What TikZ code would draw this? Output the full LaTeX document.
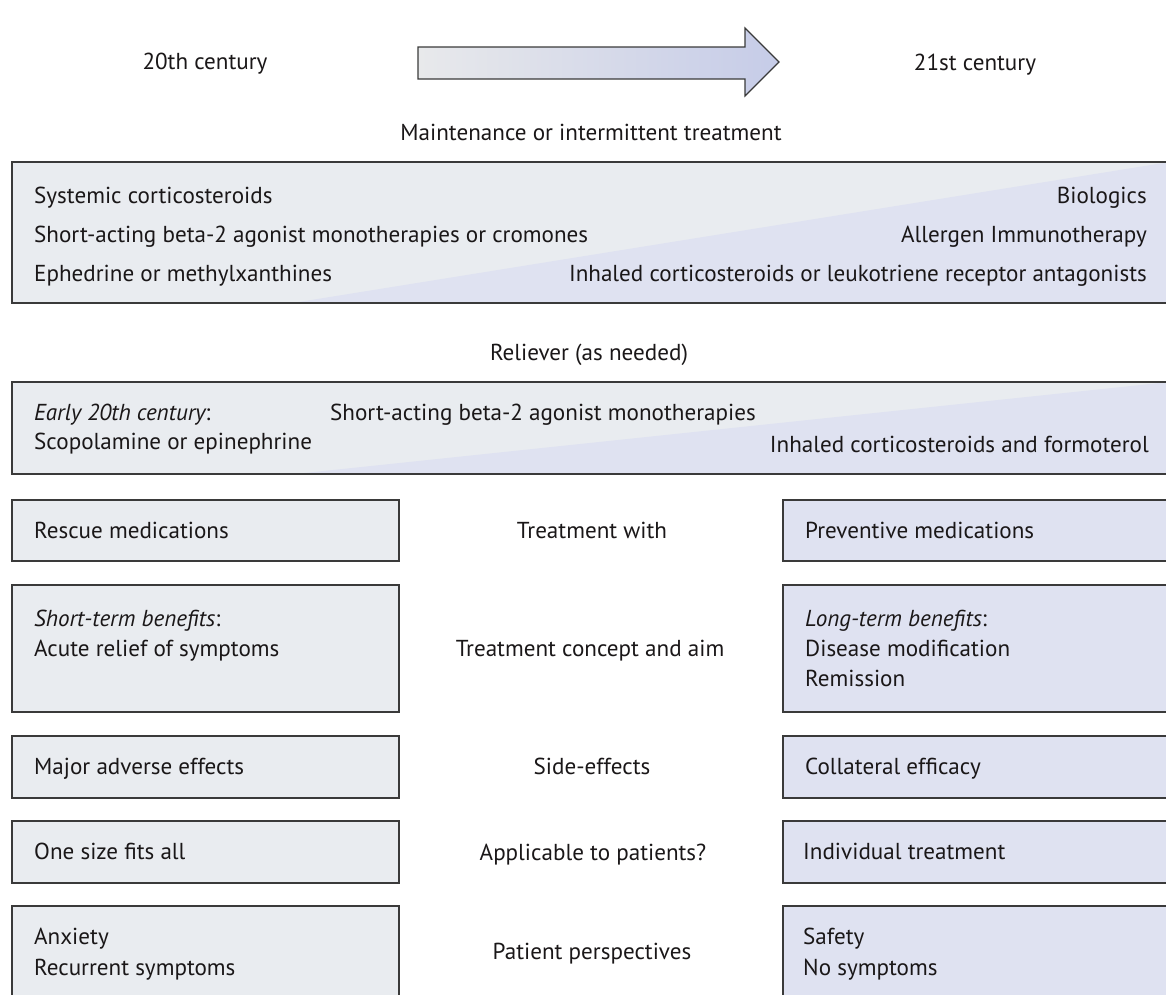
\documentclass[tikz,border=0pt]{standalone}
\usepackage{fontspec}
\setmainfont{PT Sans}
\definecolor{leftc}{HTML}{E9ECF0}
\definecolor{rightc}{HTML}{DFE2F1}
\definecolor{edgec}{HTML}{3A3A3A}
\definecolor{arrowl}{HTML}{E8E9EB}
\definecolor{arrowr}{HTML}{C6CCE8}
\definecolor{txtc}{HTML}{1A1718}
\begin{document}
\begin{tikzpicture}[x=1pt,y=-1pt,
  txt/.style={inner sep=0pt, font=\fontsize{23.1}{27}\selectfont, text=txtc},
  boxbase/.style={draw=edgec, line width=1.6pt, rectangle, inner sep=0pt, anchor=north west},
  lbox/.style={boxbase, fill=leftc, minimum width=387pt},
  rbox/.style={boxbase, fill=rightc, minimum width=390pt},
  splitbox/.style={boxbase, fill=leftc, minimum width=1159pt,
    path picture={\fill[rightc] ([xshift=#1]path picture bounding box.south west) -- (path picture bounding box.north east) -- (path picture bounding box.south east) -- cycle;}},
  timearrow/.style={draw=edgec, line width=1.2pt, left color=arrowl, right color=arrowr}
]
\useasboundingbox (0,0) rectangle (1166,994);
\clip (0,0) rectangle (1166,994);

% header
\node[txt, anchor=base] (c20) at (205,69) {20th century};
\node[txt, anchor=base] (c21) at (975,70) {21st century};
\draw[timearrow] (418,47) -- (745,47) -- (745,28) -- (779,62) -- (745,96) -- (745,79) -- (418,79) -- cycle;

% maintenance
\node[txt, anchor=base] (maint) at (591,140) {Maintenance or intermittent treatment};
\node[splitbox=282pt, minimum height=141pt] (b1) at (11,161) {};
\node[txt, anchor=base west] (m1) at (34,203) {Systemic corticosteroids};
\node[txt, anchor=base west] (m2) at (34,242) {Short-acting beta-2 agonist monotherapies or cromones};
\node[txt, anchor=base west] (m3) at (34,281) {Ephedrine or methylxanthines};
\node[txt, anchor=base east] (m4) at (1147,203) {Biologics};
\node[txt, anchor=base east] (m5) at (1147,242) {Allergen Immunotherapy};
\node[txt, anchor=base east] (m6) at (1147,281) {Inhaled corticosteroids or leukotriene receptor antagonists};

% reliever
\node[txt, anchor=base] (rel) at (589,360) {Reliever (as needed)};
\node[splitbox=285pt, minimum height=92pt] (b2) at (11,381) {};
\node[txt, anchor=base west] (r1) at (34,420) {\itshape Early 20th century\upshape:};
\node[txt, anchor=base west] (r2) at (34,449) {Scopolamine or epinephrine};
\node[txt, anchor=base west] (r3) at (330,420) {Short-acting beta-2 agonist monotherapies};
\node[txt, anchor=base east] (r4) at (1149,452) {Inhaled corticosteroids and formoterol};

% row 1
\node[lbox, minimum height=61pt] (l1) at (11,499) {};
\node[rbox, minimum height=61pt] (q1) at (782,499) {};
\node[txt, anchor=base west] (l1t) at (34,538) {Rescue medications};
\node[txt, anchor=base] (c1) at (592,538) {Treatment with};
\node[txt, anchor=base west] (q1t) at (805,538) {Preventive medications};

% row 2
\node[lbox, minimum height=127pt] (l2) at (11,584) {};
\node[rbox, minimum height=127pt] (q2) at (782,584) {};
\node[txt, anchor=base west] (l2a) at (34,626) {\itshape Short-term benefits\upshape:};
\node[txt, anchor=base west] (l2b) at (34,656) {Acute relief of symptoms};
\node[txt, anchor=base] (c2) at (590,656) {Treatment concept and aim};
\node[txt, anchor=base west] (q2a) at (805,626) {\itshape Long-term benefits\upshape:};
\node[txt, anchor=base west] (q2b) at (805,656) {Disease modification};
\node[txt, anchor=base west] (q2c) at (805,686) {Remission};

% row 3
\node[lbox, minimum height=62pt] (l3) at (11,735) {};
\node[rbox, minimum height=62pt] (q3) at (782,735) {};
\node[txt, anchor=base west] (l3t) at (34,774) {Major adverse effects};
\node[txt, anchor=base] (c3) at (592,774) {Side-effects};
\node[txt, anchor=base west] (q3t) at (805,774) {Collateral efficacy};

% row 4
\node[lbox, minimum height=62pt] (l4) at (11,820) {};
\node[rbox, minimum height=62pt] (q4) at (782,820) {};
\node[txt, anchor=base west] (l4t) at (34,859) {One size fits all};
\node[txt, anchor=base] (c4) at (593,860) {Applicable to patients?};
\node[txt, anchor=base west] (q4t) at (803,859) {Individual treatment};

% row 5
\node[lbox, minimum height=100pt] (l5) at (11,905) {};
\node[rbox, minimum height=100pt] (q5) at (782,905) {};
\node[txt, anchor=base west] (l5a) at (34,944) {Anxiety};
\node[txt, anchor=base west] (l5b) at (34,975) {Recurrent symptoms};
\node[txt, anchor=base] (c5) at (592,959) {Patient perspectives};
\node[txt, anchor=base west] (q5a) at (803,944) {Safety};
\node[txt, anchor=base west] (q5b) at (803,975) {No symptoms};
\end{tikzpicture}
\end{document}
